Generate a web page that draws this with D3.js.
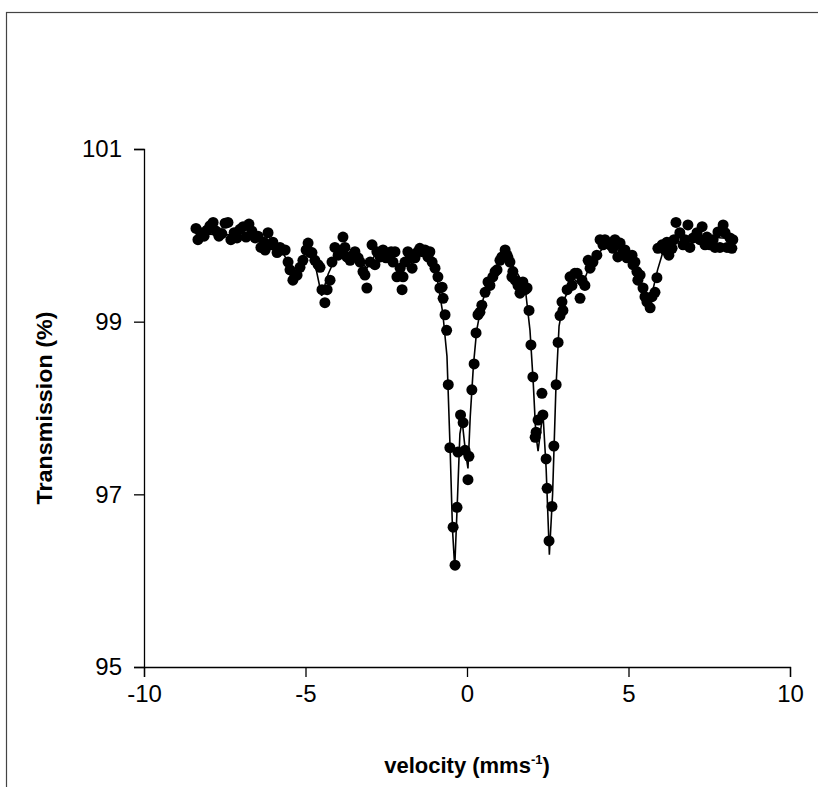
<!DOCTYPE html>
<html>
<head>
<meta charset="utf-8">
<script src="https://cdn.jsdelivr.net/npm/d3@7"></script>
<style>
  body { margin: 0; background: #fff; }
  text { font-family: "Liberation Sans", Arial, sans-serif; }
</style>
</head>
<body>
<div id="chart"></div>
<script>
// measured spectrum (velocity in mm/s, transmission in %)
var velocity = [
  -8.39,-8.33,-8.24,-8.14,-8.05,-7.96,-7.86,-7.77,-7.68,-7.59,-7.49,-7.40,-7.31,-7.21,-7.12,-7.03,-6.93,-6.84,-6.75,-6.66,-6.56,-6.47,
  -6.38,-6.29,-6.25,-6.16,-6.07,-6.01,-5.88,-5.79,-5.70,-5.63,-5.54,-5.48,-5.39,-5.33,-5.26,-5.17,-5.08,-4.98,-4.92,-4.86,-4.80,-4.71,-4.61,-4.55,-4.49,-4.40,-4.33,-4.24,-4.18,-4.09,-3.99,
  -3.93,-3.84,-3.78,-3.72,-3.62,-3.53,-3.47,-3.37,-3.31,-3.22,-3.16,-3.10,-3.00,-2.94,-2.85,-2.79,-2.69,-2.60,-2.51,-2.45,-2.35,-2.29,-2.23,-2.17,-2.07,-2.01,-1.98,-1.92,-1.83,-1.76,-1.70,-1.61,-1.52,-1.46,-1.36,-1.30,-1.21,-1.15,-1.08,-0.99,-0.90,-0.84,-0.77,-0.74,-0.68,
  -0.63,-0.58,-0.53,-0.43,-0.37,-0.31,-0.28,-0.20,-0.12,-0.06,0.03,0.06,0.15,0.22,0.28,0.34,0.40,0.46,
  0.56,0.65,0.71,0.80,0.87,0.93,1.02,1.08,1.18,1.24,1.27,1.33,1.39,1.42,1.49,1.58,1.64,1.73,1.80,1.86,1.92,
  1.98,2.04,2.11,2.14,2.20,2.32,2.35,2.45,2.48,2.54,2.63,2.69,2.76,2.82,2.88,2.94,2.97,
  3.10,3.19,3.25,3.34,3.41,3.50,3.56,3.65,3.75,3.81,3.90,4.02,4.12,4.21,4.27,4.33,4.43,4.52,4.58,4.67,4.74,4.83,4.89,4.95,
  5.05,5.11,5.14,5.20,5.26,5.29,5.36,5.45,5.51,5.57,5.67,5.73,5.82,5.88,5.91,
  6.04,6.13,6.19,6.25,6.35,6.41,6.47,6.59,6.69,6.75,6.84,6.90,7.00,7.12,7.21,7.28,7.37,7.43,7.52,7.62,7.68,7.77,7.83,7.93,7.99,8.05,8.14,8.20,8.23
];
var transmission = [
  100.08,99.95,100.03,99.99,100.06,100.11,100.15,100.05,99.99,100.02,100.14,100.15,99.95,100.03,99.97,100.07,100.10,99.98,100.13,100.05,99.97,99.99,
  99.86,99.92,99.83,100.03,99.89,99.92,99.80,99.86,99.83,99.83,99.69,99.60,99.48,99.54,99.54,99.63,99.71,99.83,99.91,99.80,99.80,99.71,99.66,99.63,99.37,99.22,99.37,99.48,99.69,99.86,99.77,
  99.81,99.98,99.86,99.75,99.71,99.77,99.81,99.74,99.69,99.58,99.54,99.39,99.69,99.89,99.66,99.81,99.75,99.83,99.74,99.77,99.81,99.69,99.81,99.52,99.62,99.37,99.52,99.69,99.81,99.74,99.62,99.74,99.81,99.85,99.81,99.83,99.75,99.81,99.69,99.62,99.52,99.39,99.40,99.27,99.08,
  98.90,98.27,97.54,96.62,96.18,96.85,97.49,97.92,97.83,97.51,97.17,97.44,98.21,98.51,98.87,99.08,99.11,99.19,
  99.34,99.46,99.42,99.52,99.58,99.60,99.71,99.75,99.83,99.77,99.74,99.69,99.52,99.58,99.48,99.42,99.33,99.46,99.37,99.39,99.13,
  98.73,98.36,97.66,97.72,97.86,98.17,97.92,97.41,97.07,96.46,96.86,97.56,98.27,98.76,99.07,99.23,99.13,
  99.37,99.52,99.42,99.56,99.56,99.27,99.48,99.42,99.71,99.62,99.69,99.77,99.95,99.89,99.95,99.91,99.89,99.85,99.95,99.75,99.91,99.81,99.83,99.74,
  99.74,99.77,99.66,99.69,99.58,99.48,99.54,99.39,99.29,99.23,99.16,99.29,99.34,99.51,99.85,
  99.89,99.83,99.92,99.77,99.85,99.95,100.15,100.03,99.89,99.95,100.12,99.86,99.97,100.03,99.95,100.10,99.89,99.98,99.89,99.95,99.86,100.04,99.86,100.12,100.03,99.86,99.97,99.85,99.95
];

// fitted curve
var fitVelocity = [
  -8.4,-7.0,-6.2,-5.7,-5.35,-5.0,-4.75,-4.5,-4.3,-4.0,-3.5,-3.1,-2.8,-2.4,-2.05,-1.8,-1.4,-1.1,-0.9,-0.75,-0.62,-0.52,-0.45,-0.38,-0.30,-0.22,-0.15,-0.05,0.03,0.10,0.20,0.30,0.45,0.70,1.0,1.2,1.5,1.8,1.95,2.05,2.13,2.20,2.35,2.45,2.55,2.65,2.75,2.85,3.0,3.3,3.55,3.8,4.2,4.6,5.0,5.35,5.65,5.9,6.1,6.6,7.5,8.2
];
var fitTransmission = [
  100.02,100.0,99.92,99.8,99.55,99.8,99.75,99.3,99.55,99.8,99.78,99.62,99.8,99.78,99.55,99.78,99.83,99.7,99.45,99.1,98.6,97.5,96.6,96.15,96.9,97.7,97.85,97.5,97.3,97.9,98.5,98.9,99.2,99.5,99.68,99.75,99.6,99.4,98.9,98.3,97.7,97.5,97.95,97.3,96.3,97.0,98.2,98.95,99.25,99.5,99.4,99.65,99.85,99.88,99.75,99.5,99.2,99.6,99.85,99.98,99.98,99.96
];

var xTicks = [-10, -5, 0, 5, 10];
var yTicks = [95, 97, 99, 101];

var W = 818, H = 787;
var margin = {top: 149, right: 28, bottom: 120, left: 144},
    width = W - margin.left - margin.right,
    height = H - margin.top - margin.bottom;

var svg = d3.select("#chart")
  .append("svg")
    .attr("width", W)
    .attr("height", H);

// outer frame (right and bottom edges fall outside the picture)
svg.append("rect")
  .attr("x", 6.5).attr("y", 12.5)
  .attr("width", 900).attr("height", 900)
  .attr("fill", "none")
  .attr("stroke", "#444")
  .attr("stroke-width", 1.2);

var g = svg.append("g")
  .attr("transform", "translate(" + margin.left + "," + margin.top + ")");

var x = d3.scaleLinear().domain([-10, 10]).range([0, width]);
var y = d3.scaleLinear().domain([95, 101]).range([height, 0]);

// plain hyphen for negatives, like the original
var fmt = function(d) { return String(d); };

// x axis
var xAxis = g.append("g")
  .attr("transform", "translate(0," + height + ")")
  .call(d3.axisBottom(x).tickValues(xTicks).tickSize(10).tickPadding(8).tickFormat(fmt));
xAxis.selectAll("text").style("font-size", "24px").attr("fill", "#000");

// y axis
var yAxis = g.append("g")
  .call(d3.axisLeft(y).tickValues(yTicks).tickSize(10).tickPadding(12).tickFormat(fmt));
yAxis.selectAll("text").style("font-size", "24px").attr("fill", "#000");

[xAxis, yAxis].forEach(function(a) {
  a.select(".domain").attr("stroke", "#000").attr("stroke-width", 1.3);
  a.selectAll(".tick line").attr("stroke", "#000").attr("stroke-width", 1.3);
});

// fitted line
var pts = velocity.map(function(v, i) { return [v, transmission[i]]; });
var fit = fitVelocity.map(function(v, i) { return [v, fitTransmission[i]]; });

g.append("path")
  .datum(fit)
  .attr("fill", "none")
  .attr("stroke", "#000")
  .attr("stroke-width", 1.6)
  .attr("d", d3.line()
    .x(function(d) { return x(d[0]); })
    .y(function(d) { return y(d[1]); }));

// data points
g.selectAll("circle")
  .data(pts)
  .enter()
  .append("circle")
    .attr("cx", function(d) { return x(d[0]); })
    .attr("cy", function(d) { return y(d[1]); })
    .attr("r", 5.5)
    .attr("fill", "#000");

// axis titles
svg.append("text")
  .attr("transform", "translate(52,408) rotate(-90)")
  .attr("text-anchor", "middle")
  .style("font-size", "22px")
  .style("font-weight", "bold")
  .attr("textLength", 193)
  .attr("lengthAdjust", "spacingAndGlyphs")
  .text("Transmission (%)");

var xl = svg.append("text")
  .attr("x", 467)
  .attr("y", 773)
  .attr("text-anchor", "middle")
  .style("font-size", "22px")
  .style("font-weight", "bold");
xl.append("tspan").text("velocity (mms");
xl.append("tspan").attr("dy", -9).style("font-size", "13px").text("-1");
xl.append("tspan").attr("dy", 9).text(")");
</script>
</body>
</html>
